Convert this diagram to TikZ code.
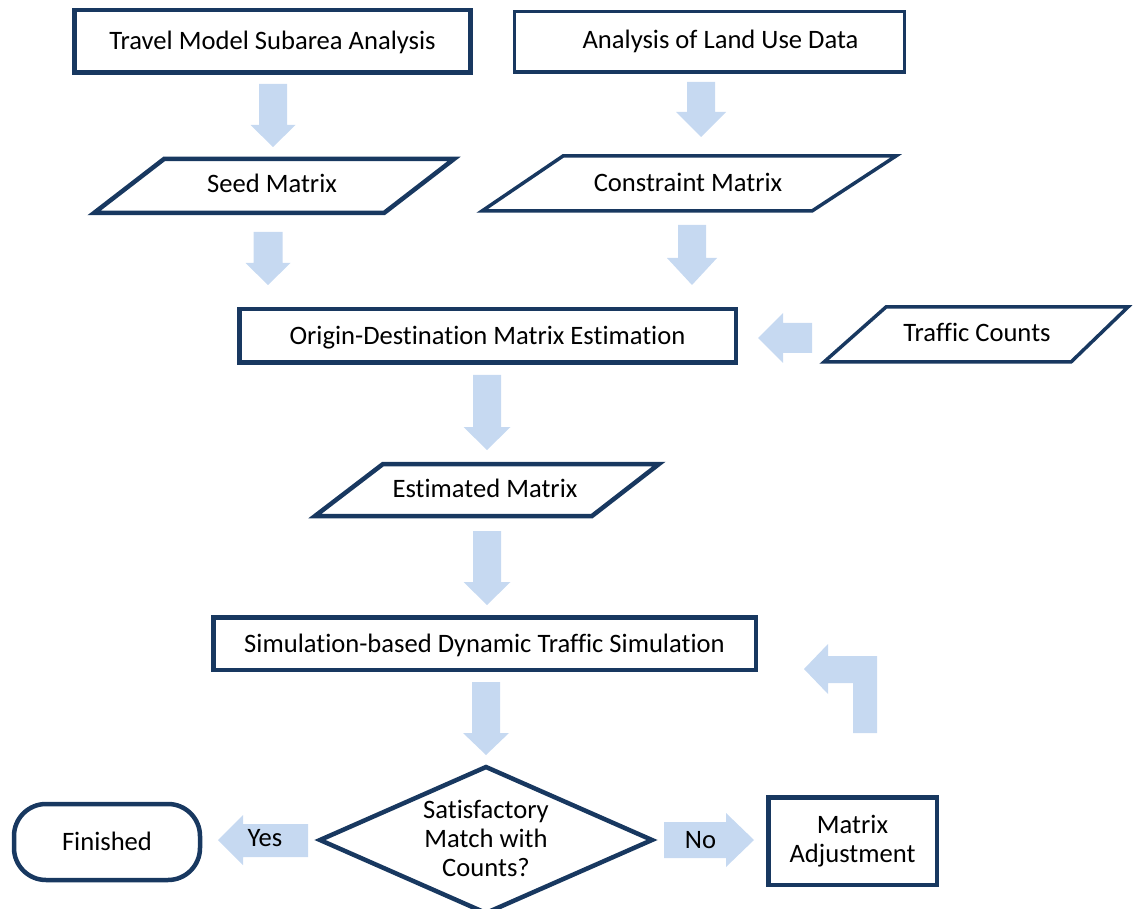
\documentclass[tikz,border=0pt]{standalone}
\usepackage{fontspec}
\setmainfont{Carlito}[Ligatures=NoCommon]
\definecolor{navy}{RGB}{24,56,96}
\definecolor{lblue}{RGB}{198,217,241}
\newcommand\dnarr[6]{%
  \fill[blk] (#1-#5,#2) -- (#1+#5,#2) -- (#1+#5,#3) -- (#1+#6,#3) -- (#1,#4) -- (#1-#6,#3) -- (#1-#5,#3) -- cycle;}
\begin{document}
\begin{tikzpicture}[x=1pt,y=-1pt,
  thick box/.style={draw=navy,line width=4.5pt},
  thin box/.style={draw=navy,line width=3.5pt},
  lbl/.style={font=\fontsize{26.6}{29}\selectfont,text=black,inner sep=0pt,align=center,text height=17pt,text depth=0pt},
  mlbl/.style={font=\fontsize{26.6}{29}\selectfont,text=black,inner sep=0pt,align=center,anchor=base},
  blk/.style={fill=lblue,draw=none}]
\useasboundingbox (0,0) rectangle (1133,909);
% block arrows
\dnarr{273}{84}{125}{147}{14}{22.5}
\dnarr{701}{82}{112}{137}{14}{25}
\dnarr{268}{232}{263}{285}{14.5}{22.5}
\dnarr{692}{225}{258}{285}{14}{25}
\dnarr{487}{375}{427}{450}{14}{23.5}
\dnarr{487}{531}{582}{605}{14}{23.5}
\dnarr{486}{682}{733}{755}{14}{23}
\fill[blk] (812,323) -- (783,323) -- (783,313) -- (758,338) -- (783,363) -- (783,353) -- (812,353) -- cycle;
\fill[blk] (308,824) -- (243,824) -- (243,815) -- (218,840) -- (243,865) -- (243,857) -- (308,857) -- cycle;
\fill[blk] (664,822) -- (726,822) -- (726,813) -- (754,840) -- (726,867) -- (726,858) -- (664,858) -- cycle;
\fill[blk] (853,733) -- (877,733) -- (877,656) -- (828,656) -- (828,644) -- (804,669) -- (828,694) -- (828,683) -- (853,683) -- cycle;
% rectangles
\node[thick box,lbl,minimum width=396pt,minimum height=62.5pt] (travel) at (272.5,41.5) {Travel Model Subarea Analysis};
\node[thin box,minimum width=390pt,minimum height=60.5pt,inner sep=0pt] (landbox) at (709.5,42) {};
\node[lbl] (land) at (720.5,40.5) {Analysis of Land Use Data};
\node[thick box,lbl,minimum width=496.5pt,minimum height=53.5pt] (od) at (487.5,336) {Origin-Destination Matrix Estimation};
\node[thick box,lbl,minimum width=542.5pt,minimum height=52.5pt] (sim) at (484.5,643.5) {Simulation-based Dynamic Traffic Simulation};
\node[thick box,minimum width=168.5pt,minimum height=87.5pt,inner sep=0pt] (adj) at (852.5,841) {};
\node[mlbl] (adjtxt) at (852.5,862.5) {Matrix\\Adjustment};
\node[thick box,lbl,rounded corners=32pt,minimum width=186pt,minimum height=76pt] (fin) at (107,842) {Finished};
% parallelograms
\draw[thick box,line join=miter] (164,159) -- (454,159) -- (384,213) -- (94,213) -- cycle;
\node[lbl] (seed) at (272,184) {Seed Matrix};
\draw[thin box] (563,156) -- (896,156) -- (812,211) -- (482,211) -- cycle;
\node[lbl] (constraint) at (688,183.5) {Constraint Matrix};
\draw[thick box] (383,464) -- (659,464) -- (592,516) -- (315,516) -- cycle;
\node[lbl] (est) at (485,489) {Estimated Matrix};
\draw[thin box] (886,307) -- (1128,307) -- (1071,362) -- (824,362) -- cycle;
\node[lbl] (traffic) at (977,333.5) {Traffic Counts};
% decision
\draw[thick box] (486,767) -- (652,840) -- (486,913) -- (320,840) -- cycle;
\node[mlbl] (dec) at (486,876.5) {Satisfactory\\Match with\\Counts?};
% arrow labels
\node[lbl] (yes) at (265,838) {Yes};
\node[lbl] (no) at (700.5,839.5) {No};
\end{tikzpicture}
\end{document}
